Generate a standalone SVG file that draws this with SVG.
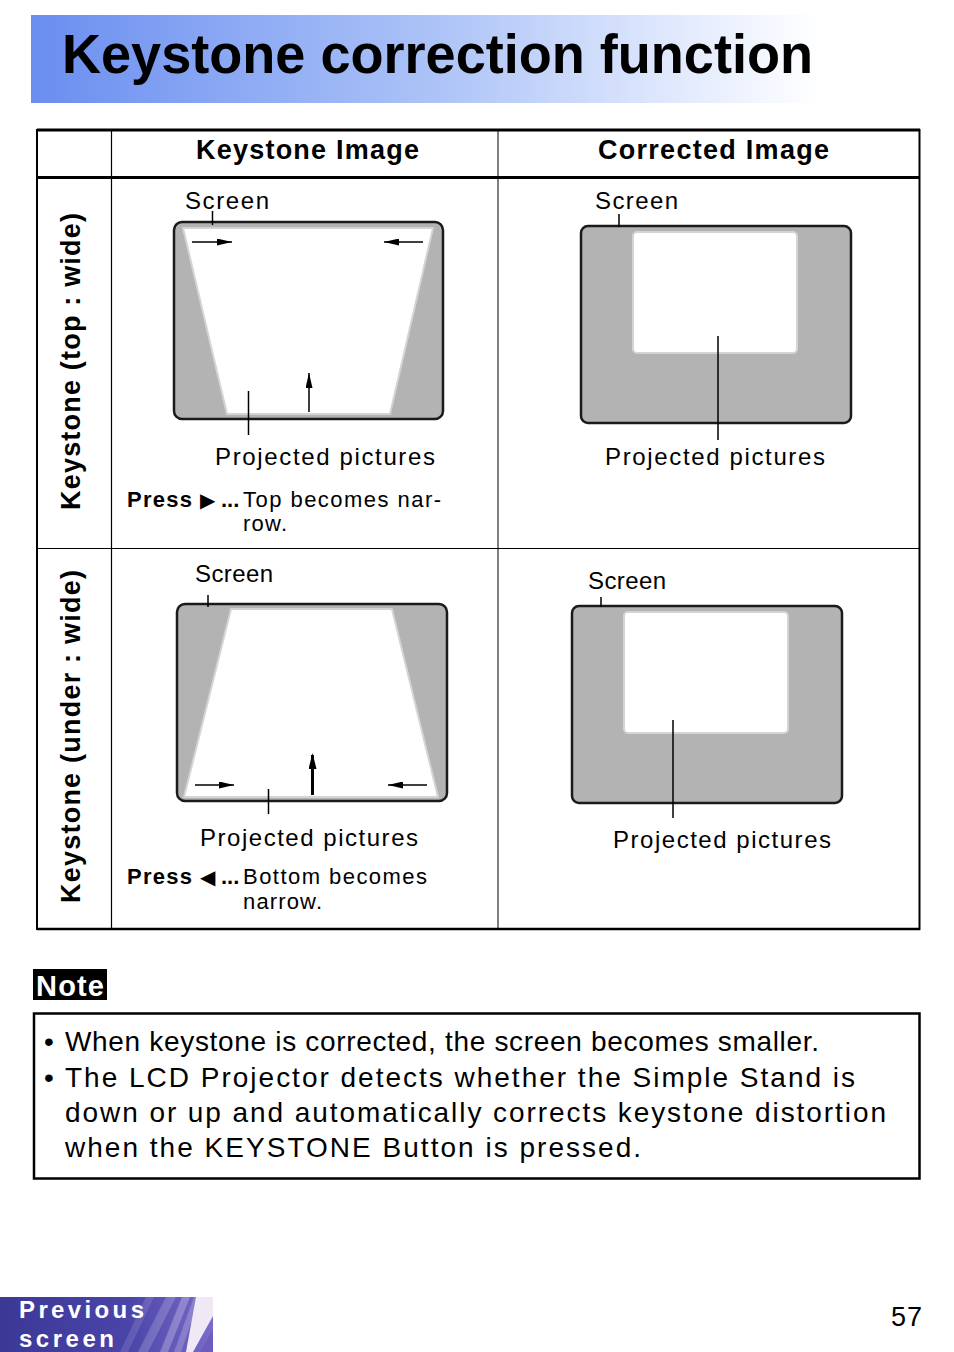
<svg xmlns="http://www.w3.org/2000/svg" width="954" height="1352" viewBox="0 0 954 1352">
<style>
.t{font-family:"Liberation Sans",Arial,Helvetica,sans-serif;fill:#000}
.b{font-weight:bold}
.lbl{font-size:24px}
.hdr{font-size:27px;font-weight:bold}
.note{font-size:28px}
.press{font-size:22px}
.tri{font-family:"DejaVu Sans",sans-serif;font-size:20px}
.scr{fill:#b3b3b3;stroke:#1a1a1a;stroke-width:2.5}
.pic{fill:#fff;stroke:#d4d4d4;stroke-width:2;stroke-linejoin:round}
.lead{stroke:#000;stroke-width:1.5;fill:none}
.arr{stroke:#000;stroke-width:1.5;fill:none;marker-end:url(#ah)}
.arr2{stroke:#000;stroke-width:3;fill:none;marker-end:url(#ah2)}
.grid{stroke:#000;fill:none}
</style>
<defs>
<linearGradient id="tg" x1="31" y1="0" x2="820" y2="0" gradientUnits="userSpaceOnUse">
<stop offset="0" stop-color="#6a8ef0"/>
<stop offset="0.5" stop-color="#abc2f7"/>
<stop offset="1" stop-color="#ffffff"/>
</linearGradient>
<linearGradient id="pg" x1="0" y1="0" x2="213" y2="0" gradientUnits="userSpaceOnUse">
<stop offset="0" stop-color="#3b3896"/>
<stop offset="0.6" stop-color="#4a44a8"/>
<stop offset="1" stop-color="#7a6cc8"/>
</linearGradient>
<marker id="ah" markerUnits="userSpaceOnUse" markerWidth="15" markerHeight="7" refX="15" refY="3.5" orient="auto">
<path d="M0,0 L15,3.5 L0,7 z" fill="#000"/>
</marker>
<marker id="ah2" markerUnits="userSpaceOnUse" markerWidth="16" markerHeight="8" refX="14" refY="4" orient="auto">
<path d="M0,0 L16,4 L0,8 z" fill="#000"/>
</marker>
</defs>
<rect width="954" height="1352" fill="#fff"/>

<g id="title">
<rect x="31" y="15" width="790" height="88" fill="url(#tg)"/>
<text class="t b" x="62" y="73" font-size="55" textLength="751" lengthAdjust="spacingAndGlyphs">Keystone correction function</text>
</g>

<g id="table">
<line class="grid" x1="37" y1="130" x2="920" y2="130" stroke-width="3"/>
<line class="grid" x1="37" y1="177.5" x2="920" y2="177.5" stroke-width="3"/>
<line class="grid" x1="37" y1="929" x2="920" y2="929" stroke-width="2.5"/>
<line class="grid" x1="37" y1="129" x2="37" y2="930" stroke-width="2"/>
<line class="grid" x1="919.5" y1="129" x2="919.5" y2="930" stroke-width="2"/>
<line class="grid" x1="111.5" y1="130" x2="111.5" y2="929" stroke-width="1.2"/>
<line class="grid" x1="498" y1="130" x2="498" y2="929" stroke-width="1"/>
<line class="grid" x1="37" y1="548.5" x2="920" y2="548.5" stroke-width="1"/>
<text class="t hdr" x="196" y="159" textLength="223" lengthAdjust="spacing">Keystone Image</text>
<text class="t hdr" x="598" y="159" textLength="231" lengthAdjust="spacing">Corrected Image</text>
<text class="t hdr" transform="translate(80,361.5) rotate(-90)" text-anchor="middle" textLength="297" lengthAdjust="spacing">Keystone (top : wide)</text>
<text class="t hdr" transform="translate(80,736.5) rotate(-90)" text-anchor="middle" textLength="333" lengthAdjust="spacing">Keystone (under : wide)</text>
</g>

<g id="keystone-top">
<rect class="scr" x="174" y="222" width="269" height="197" rx="8"/>
<path class="pic" d="M183,228 L433,228 L390,414 L227,414 Z"/>
<text class="t lbl" x="185" y="209" textLength="84" lengthAdjust="spacing">Screen</text>
<text class="t lbl" x="215" y="465" textLength="220" lengthAdjust="spacing">Projected pictures</text>
<text class="t press" y="507"><tspan class="b" x="127" textLength="65" lengthAdjust="spacing">Press</tspan><tspan class="tri" x="200">▶</tspan><tspan class="b" x="221">...</tspan><tspan x="243" textLength="198" lengthAdjust="spacing">Top becomes nar-</tspan></text>
<text class="t press" x="243" y="531" textLength="44" lengthAdjust="spacing">row.</text>
</g>

<g id="corrected-top">
<rect class="scr" x="581" y="226" width="270" height="197" rx="7"/>
<rect class="pic" x="633" y="232" width="164" height="121" rx="4"/>
<text class="t lbl" x="595" y="209" textLength="83" lengthAdjust="spacing">Screen</text>
<text class="t lbl" x="605" y="465" textLength="220" lengthAdjust="spacing">Projected pictures</text>
</g>

<g id="keystone-under">
<rect class="scr" x="177" y="604" width="270" height="197" rx="8"/>
<path class="pic" d="M231,609 L392,609 L438,797 L184,797 Z"/>
<text class="t lbl" x="195" y="582" textLength="78" lengthAdjust="spacing">Screen</text>
<text class="t lbl" x="200" y="846" textLength="218" lengthAdjust="spacing">Projected pictures</text>
<text class="t press" y="884"><tspan class="b" x="127" textLength="65" lengthAdjust="spacing">Press</tspan><tspan class="tri" x="200">◀</tspan><tspan class="b" x="221">...</tspan><tspan x="243" textLength="184" lengthAdjust="spacing">Bottom becomes</tspan></text>
<text class="t press" x="243" y="909" textLength="79" lengthAdjust="spacing">narrow.</text>
</g>

<g id="corrected-under">
<rect class="scr" x="572" y="606" width="270" height="197" rx="7"/>
<rect class="pic" x="624" y="612" width="164" height="121" rx="4"/>
<text class="t lbl" x="588" y="589" textLength="78" lengthAdjust="spacing">Screen</text>
<text class="t lbl" x="613" y="848" textLength="218" lengthAdjust="spacing">Projected pictures</text>
</g>

<g id="connectors">
<line class="lead" x1="212.5" y1="211" x2="212.5" y2="225"/>
<line class="lead" x1="248.5" y1="391" x2="248.5" y2="435"/>
<line class="arr" x1="192" y1="242" x2="232" y2="242"/>
<line class="arr" x1="423" y1="242" x2="384" y2="242"/>
<line class="arr" x1="309" y1="412" x2="309" y2="373"/>
<line class="lead" x1="619" y1="214" x2="619" y2="227"/>
<line class="lead" x1="718" y1="336" x2="718" y2="440"/>
<line class="lead" x1="208" y1="595" x2="208" y2="607"/>
<line class="lead" x1="268.5" y1="789" x2="268.5" y2="814"/>
<line class="arr" x1="195" y1="785" x2="234" y2="785"/>
<line class="arr" x1="427" y1="785" x2="388" y2="785"/>
<line class="arr2" x1="312.5" y1="795" x2="312.5" y2="755"/>
<line class="lead" x1="601" y1="597" x2="601" y2="607"/>
<line class="lead" x1="673" y1="720" x2="673" y2="818"/>
</g>

<g id="note">
<rect x="33" y="969" width="74" height="31" fill="#000"/>
<text class="t b" x="36" y="996" font-size="29" style="fill:#fff" textLength="68" lengthAdjust="spacing">Note</text>
<rect x="34" y="1013.5" width="885.5" height="165" fill="none" stroke="#000" stroke-width="2.5"/>
<text class="t note" x="44" y="1051">•</text>
<text class="t note" x="65" y="1051" textLength="754" lengthAdjust="spacing">When keystone is corrected, the screen becomes smaller.</text>
<text class="t note" x="44" y="1087">•</text>
<text class="t note" x="65" y="1087" textLength="790" lengthAdjust="spacing">The LCD Projector detects whether the Simple Stand is</text>
<text class="t note" x="65" y="1122" textLength="821" lengthAdjust="spacing">down or up and automatically corrects keystone distortion</text>
<text class="t note" x="65" y="1157" textLength="576" lengthAdjust="spacing">when the KEYSTONE Button is pressed.</text>
</g>

<g id="prev-button">
<rect x="0" y="1297" width="213" height="55" fill="url(#pg)"/>
<polygon points="120,1352 146,1297 154,1297 128,1352" fill="#fff" opacity="0.12"/>
<polygon points="138,1352 166,1297 176,1297 148,1352" fill="#fff" opacity="0.18"/>
<polygon points="160,1352 182,1297 190,1297 168,1352" fill="#fff" opacity="0.25"/>
<polygon points="174,1352 194,1297 200,1297 181,1352" fill="#fff" opacity="0.2"/>
<polygon points="196,1297 213,1297 213,1316 193,1352 186,1352" fill="#f1e8f6"/>
<polygon points="200,1352 213,1330 213,1352" fill="#6c5cbc"/>
<text class="t b" x="19" y="1318" font-size="24" style="fill:#fff" textLength="125" lengthAdjust="spacing">Previous</text>
<text class="t b" x="19" y="1347" font-size="24" style="fill:#fff" textLength="95" lengthAdjust="spacing">screen</text>
</g>

<g id="page-number">
<text class="t" x="891" y="1326" font-size="27" textLength="31" lengthAdjust="spacing">57</text>
</g>
</svg>
